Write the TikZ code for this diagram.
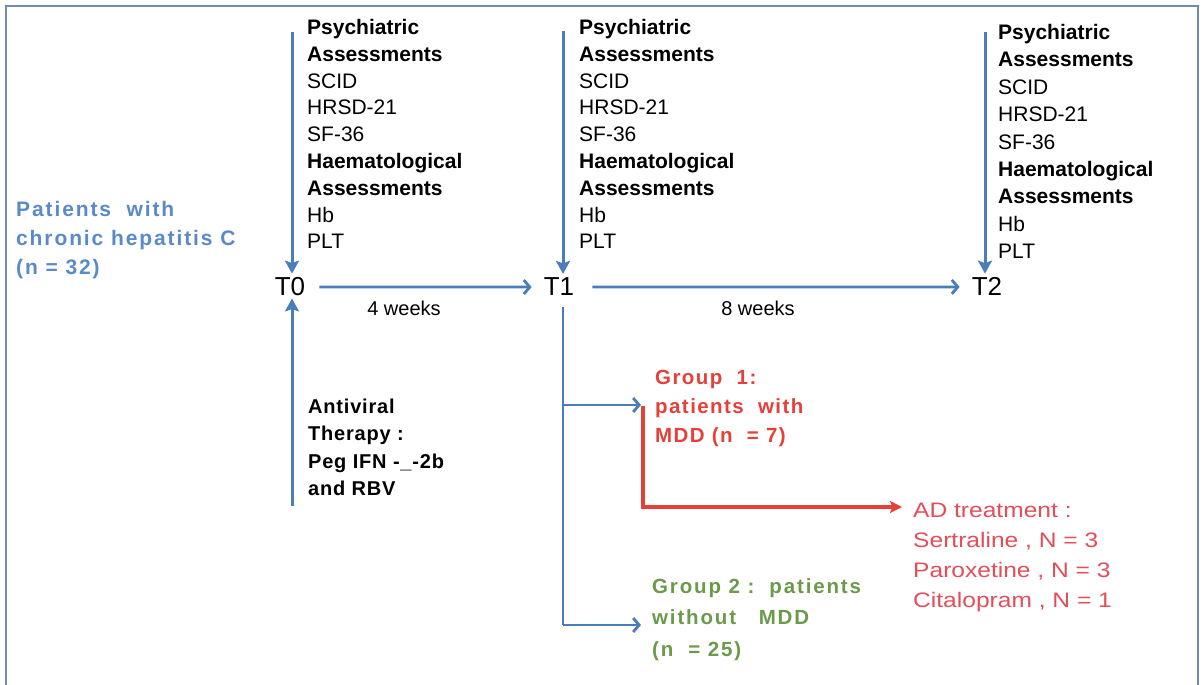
\documentclass[tikz,border=0pt]{standalone}
\usepackage{fontspec}
\setmainfont{Liberation Sans}
\newfontfamily\spaced[LetterSpace=7]{Liberation Sans}
\newfontfamily\spacedwide[LetterSpace=9]{Liberation Sans}
\newfontfamily\spacedsm[LetterSpace=4]{Liberation Sans}
\newfontfamily\wide[FakeStretch=1.17]{Liberation Sans}
\usetikzlibrary{arrows.meta}
\definecolor{arrowblue}{HTML}{4A7EBB}
\definecolor{titleblue}{HTML}{5A8AC9}
\definecolor{grpred}{HTML}{E6403A}
\definecolor{adred}{HTML}{E24E5A}
\definecolor{grpgreen}{HTML}{6B9A4B}
\definecolor{framecol}{HTML}{6F8BB0}
\tikzset{
  colbox/.style={anchor=north west, inner sep=0pt, align=left, text=black,
    font=\fontsize{21}{26.8}\selectfont},
  colboxb/.style={anchor=north west, inner sep=0pt, align=left, text=black,
    font=\fontsize{21}{27.4}\selectfont},
  tnode/.style={anchor=base, inner sep=3pt, font=\fontsize{26}{26}\selectfont},
  wk/.style={anchor=base, inner sep=0pt, font=\fontsize{20}{20}\selectfont},
  varrow/.style={draw=arrowblue, line width=3pt, -{Stealth[length=13pt,width=14pt,inset=2.5pt]}},
  harrow/.style={draw=arrowblue, line width=2.8pt, -{Straight Barb[length=6pt,width=14pt,line width=2.8pt]}},
  bline/.style={draw=arrowblue, line width=2.5pt},
  rarrow/.style={draw=grpred, line width=3.2pt, -{Stealth[length=12pt,width=12pt,inset=2.5pt]}},
}
\begin{document}
\begin{tikzpicture}[x=1pt,y=-1pt]
\useasboundingbox (0,0) rectangle (1203,685);
\fill[white] (0,0) rectangle (1203,685);
\draw[framecol, line width=2.2pt] (6,686) -- (6,6) -- (1198,6) -- (1198,686);

% left title
\node[anchor=north west, inner sep=0pt, align=left, text=titleblue,
      font=\fontsize{21}{29}\selectfont\spacedwide\bfseries] (title) at (16,201)
  {Patients\ \ with\\chronic hepatitis C\\(n = 32)};

% time points
\node[tnode] (T0) at (290,295) {T0};
\node[tnode] (T1) at (559,295) {T1};
\node[tnode] (T2) at (987,295) {T2};

% assessment columns
\node[colbox] (c0) at (307,19)
  {\textbf{Psychiatric}\\\textbf{Assessments}\\SCID\\HRSD-21\\SF-36\\\textbf{Haematological}\\\textbf{Assessments}\\Hb\\PLT};
\node[colbox] (c1) at (579,19)
  {\textbf{Psychiatric}\\\textbf{Assessments}\\SCID\\HRSD-21\\SF-36\\\textbf{Haematological}\\\textbf{Assessments}\\Hb\\PLT};
\node[colboxb] (c2) at (998,24)
  {\textbf{Psychiatric}\\\textbf{Assessments}\\SCID\\HRSD-21\\SF-36\\\textbf{Haematological}\\\textbf{Assessments}\\Hb\\PLT};

% antiviral therapy
\node[anchor=north west, inner sep=0pt, align=left,
      font=\fontsize{20}{27.3}\selectfont\spacedsm\bfseries] (av) at (308,399)
  {Antiviral\\Therapy :\\Peg IFN -\_-2b\\and RBV};

% durations
\node[wk] (w4) at (404,315) {4 weeks};
\node[wk] (w8) at (758,315) {8 weeks};

% groups
\node[anchor=north west, inner sep=0pt, align=left, text=grpred,
      font=\fontsize{20.5}{29}\selectfont\spaced\bfseries] (g1) at (655,370)
  {Group\ \ 1:\\patients\ \ with\\MDD (n\ \ = 7)};
\node[anchor=north west, inner sep=0pt, align=left, text=grpgreen,
      font=\fontsize{20.5}{31.5}\selectfont\spacedwide\bfseries] (g2) at (652,578)
  {Group 2 :\ \ patients\\without\ \ \ MDD\\(n\ \ = 25)};
\node[anchor=north west, inner sep=0pt, align=left, text=adred,
      font=\fontsize{21}{30}\selectfont\wide] (ad) at (913,503)
  {AD treatment :\\Sertraline , N = 3\\Paroxetine , N = 3\\Citalopram , N = 1};

% coordinates
\coordinate (a0) at (292,32);
\coordinate (a1) at (563,31);
\coordinate (a2) at (985,32);
\coordinate (a0b) at (292,506);
\coordinate (b1) at (563,405);
\coordinate (tb) at (563,625);
\coordinate (r0) at (643,406);
\coordinate (r1) at (643,507);

% vertical arrows
\draw[varrow] (a0) -- (a0 |- T0.north);
\draw[varrow] (a1) -- (a1 |- T1.north);
\draw[varrow] (a2) -- (a2 |- T2.north);
\draw[varrow] (a0b) -- (a0b |- T0.south);

% horizontal timeline
\draw[harrow, shorten <=11pt, shorten >=9pt] ([yshift=-1pt]T0.east) -- ([yshift=-1pt]T1.west);
\draw[harrow, shorten <=15pt, shorten >=9pt] ([yshift=-1pt]T1.east) -- ([yshift=-1pt]T2.west);

% branches
\draw[bline] ([yshift=-9pt]a1 |- T1.south) -- (tb);
\draw[harrow, line width=2.5pt, shorten >=14pt] (b1) -- (b1 -| g1.west);
\draw[harrow, line width=2.5pt, shorten >=11pt] (tb) -- (tb -| g2.west);

% red arrow
\draw[rarrow, shorten >=11pt] (r0) -- (r1) -- (r1 -| ad.west);
\end{tikzpicture}
\end{document}
